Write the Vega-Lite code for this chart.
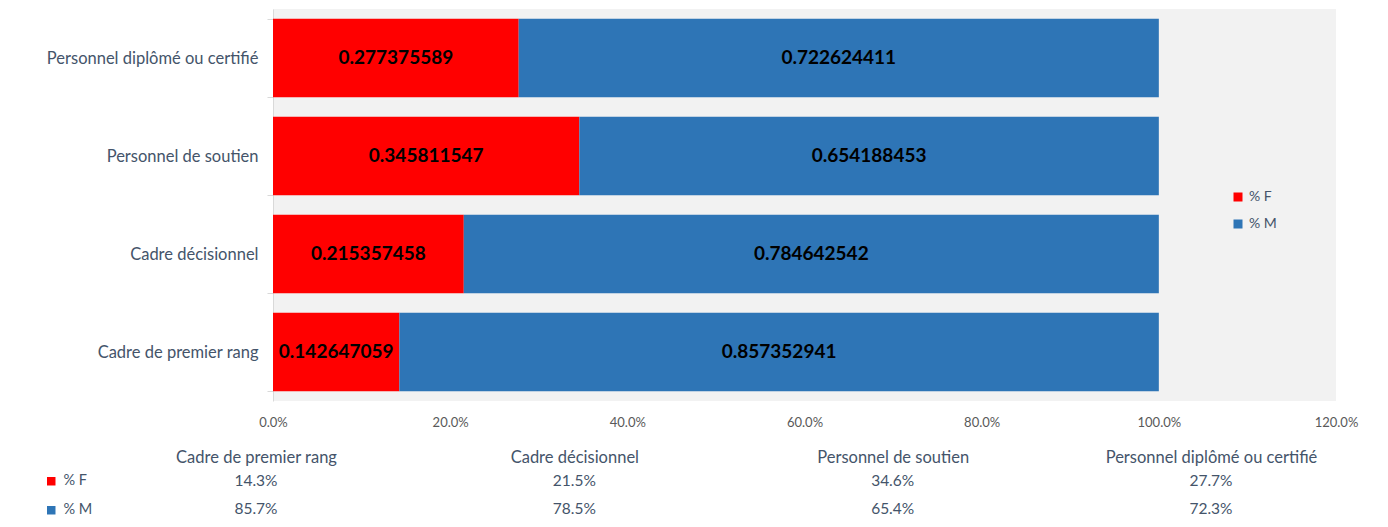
{
  "$schema": "https://vega.github.io/schema/vega-lite/v6.json",
  "autosize": {"type": "pad"},
  "padding": {"left": 44, "top": 1, "right": 10, "bottom": 0},
  "config": {"font": "Lato", "view": {"stroke": null}},
  "data": {"values": [
    {"cat": "Cadre de premier rang", "sex": "% F", "v": 0.142647059},
    {"cat": "Cadre de premier rang", "sex": "% M", "v": 0.857352941},
    {"cat": "Cadre décisionnel", "sex": "% F", "v": 0.215357458},
    {"cat": "Cadre décisionnel", "sex": "% M", "v": 0.784642542},
    {"cat": "Personnel de soutien", "sex": "% F", "v": 0.345811547},
    {"cat": "Personnel de soutien", "sex": "% M", "v": 0.654188453},
    {"cat": "Personnel diplômé ou certifié", "sex": "% F", "v": 0.277375589},
    {"cat": "Personnel diplômé ou certifié", "sex": "% M", "v": 0.722624411}
  ]},
  "spacing": 20,
  "resolve": {"legend": {"color": "independent"}},
  "vconcat": [
    {
      "width": 1063,
      "height": 392,
      "view": {"fill": "#F2F2F2", "stroke": null},
      "encoding": {
        "y": {
          "field": "cat", "type": "nominal",
          "sort": ["Personnel diplômé ou certifié", "Personnel de soutien", "Cadre décisionnel", "Cadre de premier rang"],
          "scale": {"paddingInner": 0.2, "paddingOuter": 0.1},
          "axis": {
            "title": null, "domain": true, "domainColor": "#D9D9D9", "ticks": true, "tickColor": "#D9D9D9",
            "tickSize": 6, "tickBand": "extent", "labelPadding": 9, "labelFontSize": 16.5,
            "labelColor": "#44546A", "labelLimit": 400
          }
        }
      },
      "layer": [
        {
          "mark": {"type": "bar"},
          "encoding": {
            "x": {
              "field": "v", "type": "quantitative", "stack": "zero",
              "scale": {"domain": [0, 1.2], "nice": false},
              "axis": {
                "title": null, "values": [0, 0.2, 0.4, 0.6, 0.8, 1, 1.2], "format": ".1%",
                "grid": false, "domain": false, "ticks": false, "tickSize": 0, "labelPadding": 15,
                "labelFontSize": 13, "labelColor": "#595959", "labelFlush": false, "labelOverlap": false
              }
            },
            "color": {
              "field": "sex", "type": "nominal",
              "scale": {"domain": ["% F", "% M"], "range": ["#FF0000", "#2E75B6"]},
              "legend": {
                "title": null, "orient": "none", "legendX": 958, "legendY": 181,
                "symbolType": "square", "symbolSize": 81, "symbolStrokeWidth": 0,
                "labelFontSize": 14, "labelColor": "#44546A", "labelOffset": 4, "rowPadding": 13
              }
            }
          }
        },
        {
          "mark": {"type": "text", "fontWeight": "bold", "fontSize": 19, "color": "#000000"},
          "encoding": {
            "x": {"field": "v", "type": "quantitative", "stack": "zero", "bandPosition": 0.5},
            "detail": {"field": "sex"},
            "text": {"field": "v", "type": "quantitative", "format": ".9f"}
          }
        }
      ]
    },
    {
      "width": 955,
      "height": 56,
      "view": {"stroke": null},
      "layer": [
        {
          "mark": {"type": "text", "fontSize": 15.5, "color": "#44546A", "dx": -17},
          "encoding": {
            "x": {
              "field": "cat", "type": "nominal",
              "sort": ["Cadre de premier rang", "Cadre décisionnel", "Personnel de soutien", "Personnel diplômé ou certifié"],
              "scale": {"type": "point", "padding": 0},
              "axis": {
                "orient": "top", "title": null, "domain": false, "ticks": false, "tickSize": 0,
                "labelPadding": 2, "labelOffset": -17, "labelAngle": 0, "labelFontSize": 16.5,
                "labelColor": "#44546A", "labelLimit": 400, "labelOverlap": false
              }
            },
            "y": {"field": "sex", "type": "nominal", "sort": ["% F", "% M"], "axis": null},
            "text": {"field": "v", "type": "quantitative", "format": ".1%"}
          }
        },
        {
          "mark": {"type": "square", "opacity": 0},
          "encoding": {
            "color": {
              "field": "sex", "type": "nominal",
              "legend": {
                "title": null, "orient": "none", "legendX": -229, "legendY": 7,
                "symbolType": "square", "symbolSize": 72, "symbolOpacity": 1, "symbolStrokeWidth": 0,
                "labelFontSize": 14.5, "labelColor": "#44546A", "labelOffset": 5, "rowPadding": 14
              }
            }
          }
        }
      ]
    }
  ]
}
